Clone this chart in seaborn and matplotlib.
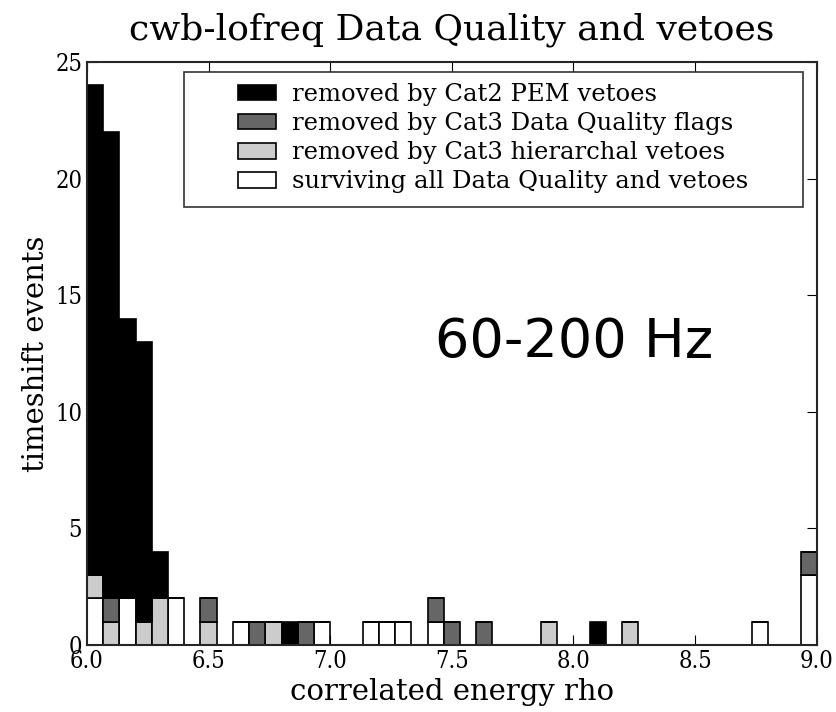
import numpy as np
import pandas as pd
import seaborn as sns
import matplotlib.pyplot as plt
from matplotlib.patches import Rectangle

# 45 bins of equal width between rho = 6 and 9
bin_lo, bin_hi, n_bins = 6.0, 9.0, 45

labels = ["removed by Cat2 PEM vetoes",
          "removed by Cat3 Data Quality flags",
          "removed by Cat3 hierarchal vetoes",
          "surviving all Data Quality and vetoes"]

# counts per bin (bin index -> count)
cat2_pem = {0: 21, 1: 20, 2: 12, 3: 12, 4: 2, 12: 1, 31: 1}
cat3_dq = {1: 1, 7: 1, 10: 1, 13: 1, 21: 1, 22: 1, 24: 1, 44: 1}
cat3_hier = {0: 1, 1: 1, 3: 1, 4: 2, 7: 1, 11: 1, 28: 1, 33: 1}
surviving = {0: 2, 2: 2, 5: 2, 9: 1, 14: 1, 17: 1, 18: 1, 19: 1, 21: 1, 41: 1, 44: 3}

colors = ["#000000", "#666666", "#cccccc", "#ffffff"]

#%%
width = (bin_hi - bin_lo) / n_bins
rows = []
for lab, counts in zip(labels, [cat2_pem, cat3_dq, cat3_hier, surviving]):
    for b, c in counts.items():
        rows.append({"rho": bin_lo + (b + 0.5) * width, "cut": lab, "n": c})
df = pd.DataFrame(rows)

sns.set_style("ticks")
plt.rcParams["font.family"] = ["DejaVu Serif"]
plt.rcParams["text.color"] = "black"
plt.rcParams["axes.labelcolor"] = "black"
plt.rcParams["xtick.color"] = "black"
plt.rcParams["ytick.color"] = "black"
plt.rcParams["xtick.direction"] = "in"
plt.rcParams["ytick.direction"] = "in"
plt.rcParams["xtick.top"] = True
plt.rcParams["ytick.right"] = True
plt.rcParams["xtick.major.size"] = 7
plt.rcParams["ytick.major.size"] = 7
plt.rcParams["axes.linewidth"] = 1.5

fig = plt.figure(figsize=(8.36, 7.12), dpi=100)
ax = fig.add_axes([0.104, 0.094, 0.873, 0.819])

sns.histplot(df, x="rho", hue="cut", weights="n", hue_order=labels,
             palette=colors, bins=n_bins, binrange=(bin_lo, bin_hi),
             multiple="stack", alpha=1, edgecolor="black", linewidth=1.2,
             ax=ax)

ax.set_xlim(6, 9)
ax.set_ylim(0, 25)
ax.set_xticks(np.arange(6, 9.01, 0.5))
ax.set_yticks(range(0, 26, 5))
ax.tick_params(labelsize=17)
for t in ax.get_xticklabels() + ax.get_yticklabels():
    t.set_fontstretch("condensed")
ax.set_xlabel("correlated energy rho", fontsize=21, labelpad=4)
ax.set_ylabel("timeshift events", fontsize=21, labelpad=4)
ax.set_title("cwb-lofreq Data Quality and vetoes", fontsize=26, pad=16)

# legend box drawn separately so the entries sit centred in it
box = Rectangle((0.133, 0.751), 0.848, 0.232, transform=ax.transAxes,
                facecolor="white", edgecolor="#333333", linewidth=1.2,
                zorder=4)
ax.add_patch(box)
sns.move_legend(ax, "center", bbox_to_anchor=(0.133 + 0.424, 0.751 + 0.118),
                title=None, fontsize=17.5, frameon=False, labelspacing=0.25,
                handlelength=1.55, handleheight=0.6, handletextpad=0.67,
                borderpad=0, borderaxespad=0)
ax.get_legend().set_zorder(5)

ax.text(7.43, 13.0, "60-200 Hz", fontsize=39, family="DejaVu Sans",
        va="center", ha="left")

plt.savefig("out.png", dpi=100)
